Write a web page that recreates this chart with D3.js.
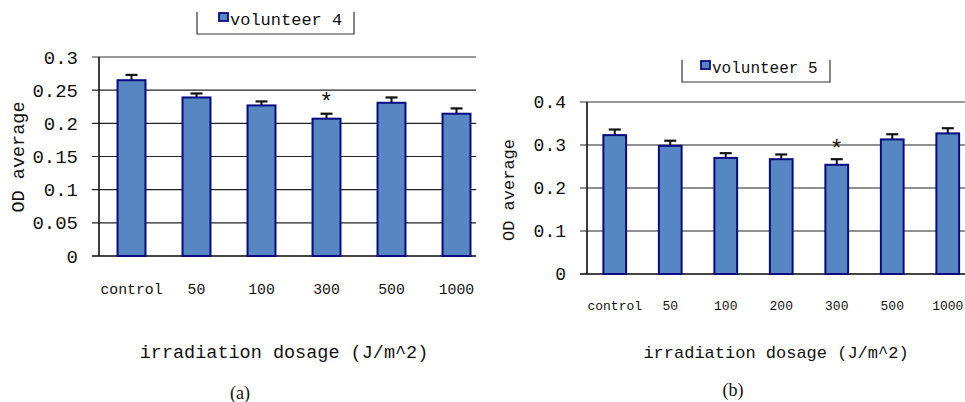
<!DOCTYPE html>
<html>
<head>
<meta charset="utf-8">
<script src="https://cdn.jsdelivr.net/npm/d3@7"></script>
<style>
  body { margin: 0; background: #fff; }
  svg text { font-family: "Liberation Mono", "DejaVu Sans Mono", monospace; fill: #111; }
  svg text.caption { font-family: "Liberation Serif", "DejaVu Serif", serif; }
</style>
</head>
<body>
<svg id="chart" width="965" height="402"></svg>
<script>
// panel (a) - volunteer 4
const catsA = ['control', '50', '100', '300', '500', '1000'];
const meanA = [0.265, 0.239, 0.227, 0.207, 0.231, 0.2145];
const errA  = [0.008, 0.006, 0.006, 0.0075, 0.008, 0.008];
const ticksA = [0, 0.05, 0.1, 0.15, 0.2, 0.25, 0.3];
const starA = '300';

// panel (b) - volunteer 5
const catsB = ['control', '50', '100', '200', '300', '500', '1000'];
const meanB = [0.323, 0.298, 0.270, 0.267, 0.254, 0.313, 0.327];
const errB  = [0.013, 0.012, 0.011, 0.011, 0.013, 0.012, 0.012];
const ticksB = [0, 0.1, 0.2, 0.3, 0.4];
const starB = '300';

const svg = d3.select('#chart');

function drawPanel(p) {
  const g = svg.append('g');
  const x = d3.scaleBand().domain(p.cats).range(p.xRange)
    .paddingInner(p.pad).paddingOuter(p.pad / 2);
  const y = d3.scaleLinear().domain([0, p.yMax]).range(p.yRange);

  // gridlines
  g.selectAll('.grid').data(p.ticks).enter().append('line')
    .attr('x1', p.xRange[0] - 7).attr('x2', p.clipRight)
    .attr('y1', d => y(d)).attr('y2', d => y(d))
    .attr('stroke', d => d === p.yMax ? '#999' : (d === 0 ? '#444' : '#222'))
    .attr('stroke-width', d => d === p.yMax ? 2 : (d === 0 ? 2 : 1.2));

  // y axis line
  g.append('line')
    .attr('x1', p.xRange[0]).attr('x2', p.xRange[0])
    .attr('y1', y(p.yMax)).attr('y2', y(0))
    .attr('stroke', '#111').attr('stroke-width', 1.6);

  // y tick labels
  g.selectAll('.yl').data(p.ticks).enter().append('text')
    .attr('x', p.tickRight).attr('y', d => y(d))
    .attr('dy', '0.35em')
    .attr('text-anchor', 'end')
    .style('font-size', p.tickSize + 'px')
    .text(d => d3.format('')(d));

  const clipId = 'clip' + p.id;
  svg.append('clipPath').attr('id', clipId).append('rect')
    .attr('x', p.xRange[0]).attr('y', 0)
    .attr('width', p.clipRight - p.xRange[0]).attr('height', 402);
  const plot = g.append('g').attr('clip-path', `url(#${clipId})`);

  const rows = p.cats.map((c, i) => ({ c, v: p.mean[i], e: p.err[i] }));

  // error bars
  const cap = 6;
  plot.selectAll('.ev').data(rows).enter().append('line')
    .attr('x1', d => x(d.c) + x.bandwidth() / 2)
    .attr('x2', d => x(d.c) + x.bandwidth() / 2)
    .attr('y1', d => y(d.v)).attr('y2', d => y(d.v + d.e))
    .attr('stroke', '#111').attr('stroke-width', 2);
  plot.selectAll('.ec').data(rows).enter().append('line')
    .attr('x1', d => x(d.c) + x.bandwidth() / 2 - cap)
    .attr('x2', d => x(d.c) + x.bandwidth() / 2 + cap)
    .attr('y1', d => y(d.v + d.e)).attr('y2', d => y(d.v + d.e))
    .attr('stroke', '#111').attr('stroke-width', 2.2);

  // bars
  plot.selectAll('.bar').data(rows).enter().append('rect')
    .attr('x', d => x(d.c)).attr('width', x.bandwidth())
    .attr('y', d => y(d.v)).attr('height', d => y(0) - y(d.v))
    .attr('fill', '#5787c2')
    .attr('stroke', '#0a0a82').attr('stroke-width', 2);

  // significance star (glyph sits high, so push baseline down)
  const s = rows.find(d => d.c === p.star);
  g.append('text')
    .attr('x', x(s.c) + x.bandwidth() / 2)
    .attr('y', y(s.v + s.e) - p.starGap + 12)
    .attr('text-anchor', 'middle')
    .style('font-size', '23px')
    .text('*');

  // x tick labels
  g.selectAll('.xl').data(p.cats).enter().append('text')
    .attr('x', d => x(d) + x.bandwidth() / 2)
    .attr('y', p.xLabelY).attr('dy', '0.35em')
    .attr('text-anchor', 'middle')
    .style('font-size', p.xTickSize + 'px')
    .text(d => d);

  // axis titles
  g.append('text')
    .attr('x', p.xTitle[0]).attr('y', p.xTitle[1]).attr('dy', '0.35em')
    .attr('text-anchor', 'middle')
    .style('font-size', p.xTitleSize + 'px')
    .text('irradiation dosage (J/m^2)');
  g.append('text')
    .attr('transform', `translate(${p.yTitle[0]},${p.yTitle[1]}) rotate(-90)`)
    .attr('dy', '0.35em')
    .attr('text-anchor', 'middle')
    .style('font-size', p.yTitleSize + 'px')
    .text('OD average');

  // legend (box cut at the top)
  const L = p.legend;
  g.append('path')
    .attr('d', `M${L.x0},${L.top}V${L.bottom}H${L.x1}V${L.top}`)
    .attr('fill', 'none').attr('stroke', '#333').attr('stroke-width', 1.2);
  g.append('rect')
    .attr('x', L.mx).attr('y', L.my).attr('width', L.ms).attr('height', L.ms - 1)
    .attr('fill', '#5787c2').attr('stroke', '#0a0a82').attr('stroke-width', 1.8);
  g.append('text')
    .attr('x', L.mx + L.ms + 2).attr('y', L.ty)
    .style('font-size', L.size + 'px')
    .text(p.legendText);

  // caption
  g.append('text').attr('class', 'caption')
    .attr('x', p.caption[0]).attr('y', p.caption[1]).attr('dy', '0.35em')
    .attr('text-anchor', 'middle')
    .style('font-size', '18px')
    .text(p.captionText);
}

drawPanel({
  id: 'a', cats: catsA, mean: meanA, err: errA, ticks: ticksA, yMax: 0.3, star: starA,
  xRange: [99, 489], clipRight: 476, pad: 0.57, yRange: [256, 57],
  tickRight: 78, tickSize: 19, xTickSize: 14.8, xLabelY: 289, starGap: 16,
  xTitle: [284, 352], xTitleSize: 18.5, yTitle: [18, 157], yTitleSize: 18.5,
  legend: { x0: 197, x1: 354, top: 12, bottom: 34, mx: 219, my: 13, ms: 9, ty: 25, size: 17 },
  legendText: 'volunteer 4', caption: [240, 393], captionText: '(a)'
});

drawPanel({
  id: 'b', cats: catsB, mean: meanB, err: errB, ticks: ticksB, yMax: 0.4, star: starB,
  xRange: [587, 975.5], clipRight: 965, pad: 0.59, yRange: [274, 102],
  tickRight: 566, tickSize: 18, xTickSize: 13, xLabelY: 305, starGap: 14,
  xTitle: [776, 352], xTitleSize: 17, yTitle: [508, 190], yTitleSize: 17,
  legend: { x0: 682, x1: 830, top: 60, bottom: 82, mx: 701, my: 61, ms: 9, ty: 73, size: 16 },
  legendText: 'volunteer 5', caption: [733, 390], captionText: '(b)'
});
</script>
</body>
</html>
